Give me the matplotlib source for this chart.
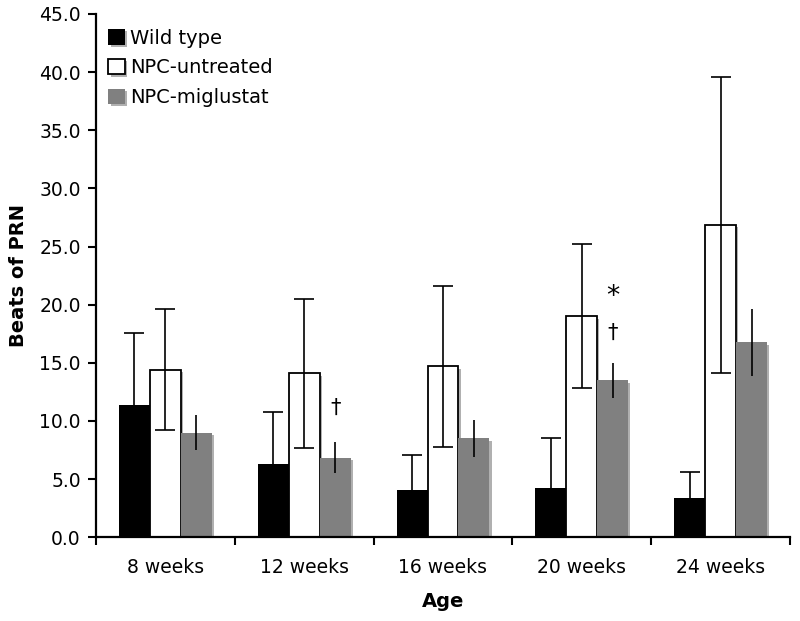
import matplotlib
matplotlib.use("Agg")
import matplotlib.pyplot as plt
import matplotlib.patheffects as pe
import numpy as np

categories = ["8 weeks", "12 weeks", "16 weeks", "20 weeks", "24 weeks"]
series_names = ["Wild type", "NPC-untreated", "NPC-miglustat"]
wild_type = [11.4, 6.3, 4.1, 4.2, 3.4]
wild_type_err = [6.2, 4.5, 3.0, 4.3, 2.2]
npc_untreated = [14.4, 14.1, 14.7, 19.0, 26.85]
npc_untreated_err = [5.2, 6.4, 6.9, 6.2, 12.7]
npc_miglustat = [9.0, 6.85, 8.5, 13.5, 16.75]
npc_miglustat_err = [1.5, 1.35, 1.6, 1.5, 2.9]
yticks = [0, 5, 10, 15, 20, 25, 30, 35, 40, 45]
# annotations: (category index, y value, symbol)
annotations = [(1, 11.1, "\u2020"), (3, 17.6, "\u2020"), (3, 20.7, "*")]

plt.rcParams['font.family'] = ['DejaVu Sans']

fig = plt.figure(figsize=(8, 6.21), dpi=100)
ax = fig.add_axes([0.12, 0.1348, 0.8675, 0.8427])

x = np.arange(len(categories))
w = 0.223
colors = ["#000000", "#ffffff", "#808080"]
edges = ["#000000", "#000000", "#808080"]
vals = [wild_type, npc_untreated, npc_miglustat]
errs = [wild_type_err, npc_untreated_err, npc_miglustat_err]
offsets = [-w, 0, w]
shadow = [pe.SimplePatchShadow(offset=(1.6, -1.6), shadow_rgbFace="#b0b0b0", alpha=1.0), pe.Normal()]

handles = []
for i in range(3):
    b = ax.bar(x + offsets[i], vals[i], width=w, color=colors[i],
               edgecolor=edges[i], linewidth=1.3 if i == 1 else 0,
               label=series_names[i], zorder=2)
    for p in b.patches:
        p.set_path_effects(shadow)
    handles.append(b)

for i in range(3):
    cap = 7 if i < 2 else 0
    ax.errorbar(x + offsets[i], vals[i], yerr=errs[i], fmt="none",
                ecolor="black", elinewidth=1.2, capsize=cap, capthick=1.2, zorder=3)

for ci, yv, sym in annotations:
    ax.text(x[ci] + w, yv, sym, ha="center", va="center",
            fontsize=19 if sym == "*" else 15, zorder=4)

ax.set_ylim(0, 45)
ax.set_xlim(-0.5, len(categories) - 0.5)
ax.set_yticks(yticks)
ax.set_yticklabels([f"{v:.1f}" for v in yticks], fontsize=13.5)
ax.set_xticks(x)
ax.set_xticklabels(categories, fontsize=13.5)
ax.set_xticks(np.arange(len(categories) + 1) - 0.5, minor=True)
ax.tick_params(axis="x", which="major", length=0, pad=15)
ax.tick_params(axis="x", which="minor", length=6, width=1.5, direction="out")
ax.tick_params(axis="y", length=6, width=1.5, direction="out", pad=5)
for s in ["top", "right"]:
    ax.spines[s].set_visible(False)
for s in ["left", "bottom"]:
    ax.spines[s].set_linewidth(1.6)

ax.set_xlabel("Age", fontsize=14, fontweight="bold", labelpad=10.5)
ax.set_ylabel("Beats of PRN", fontsize=14, fontweight="bold", labelpad=8)

leg = ax.legend(handles=handles, loc="upper left", bbox_to_anchor=(0.018, 0.972),
                frameon=False, fontsize=14, handlelength=0.85, handleheight=0.85,
                handletextpad=0.25, labelspacing=0.55, borderaxespad=0.0,
                borderpad=0.0)

fig.savefig("out.png", dpi=100)
